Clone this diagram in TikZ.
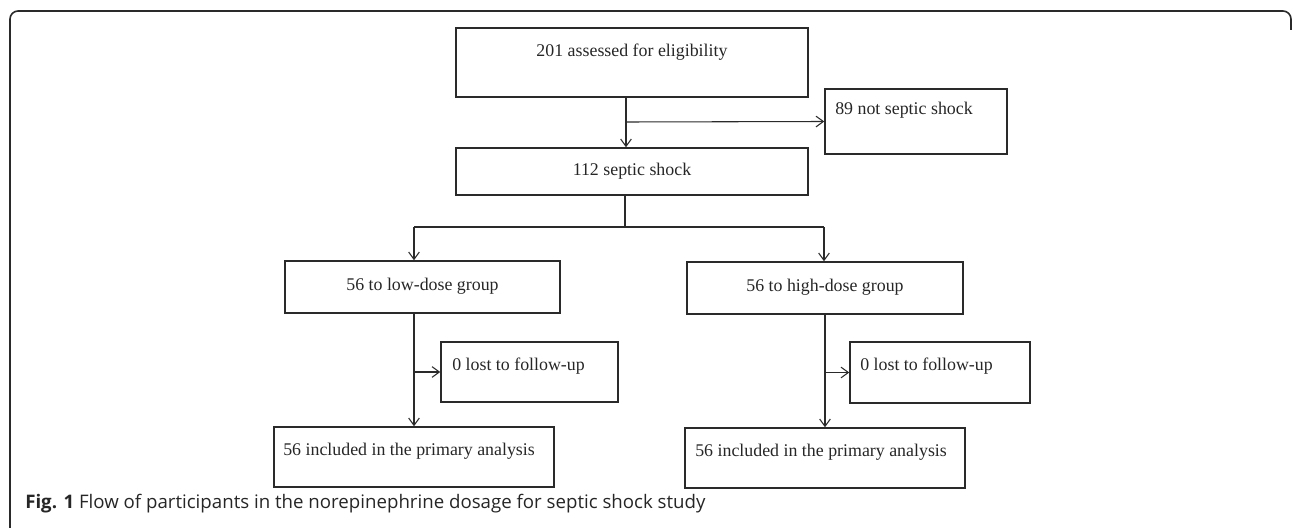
\documentclass[tikz,border=0pt]{standalone}
\usepackage{fontspec}
\setmainfont{Liberation Serif}
\newfontfamily\capfont{Open Sans}
\usetikzlibrary{arrows.meta}
\definecolor{ln}{HTML}{2A2A2A}
\begin{document}
\begin{tikzpicture}[x=0.75pt,y=-0.75pt,
  boxst/.style={draw=ln,line width=1.1pt,rectangle,inner sep=0pt},
  txt/.style={inner sep=0pt,font=\fontsize{13.4}{16}\selectfont,text=black!85},
  arr/.style={draw=ln,line width=0.8pt,-{Straight Barb[length=5.5pt,width=8pt,line width=0.8pt]}},
  ln/.style={draw=ln,line width=0.8pt}]
\useasboundingbox (0,0) rectangle (1293,528);
% frame
\draw[draw=ln,line width=1.2pt,rounded corners=6pt] (10,540) -- (10,11) -- (1291,11) -- (1291,30);
% boxes
\node[boxst,minimum width=352*0.75pt,minimum height=69*0.75pt] (A) at (632,62.5) {};
\node[boxst,minimum width=182*0.75pt,minimum height=65*0.75pt] (N) at (916,121.5) {};
\node[boxst,minimum width=352*0.75pt,minimum height=47*0.75pt] (B) at (632,171.5) {};
\node[boxst,minimum width=275*0.75pt,minimum height=52*0.75pt] (L) at (422.5,287) {};
\node[boxst,minimum width=276*0.75pt,minimum height=52*0.75pt] (H) at (825,288) {};
\node[boxst,minimum width=177*0.75pt,minimum height=60*0.75pt] (LL) at (529.5,372) {};
\node[boxst,minimum width=180*0.75pt,minimum height=61*0.75pt] (HL) at (940,372.5) {};
\node[boxst,minimum width=280*0.75pt,minimum height=60*0.75pt] (LI) at (414,457) {};
\node[boxst,minimum width=280*0.75pt,minimum height=60*0.75pt] (HI) at (825,458) {};
% texts
\node[txt] (tA) at (632,52) {201 assessed for eligibility};
\node[txt,anchor=west] (tN) at (835,110) {89 not septic shock};
\node[txt] (tB) at (632,171) {112 septic shock};
\node[txt] (tL) at (422.5,286) {56 to low-dose group};
\node[txt] (tH) at (825,287) {56 to high-dose group};
\node[txt,anchor=west] (tLL) at (452,366) {0 lost to follow-up};
\node[txt,anchor=west] (tHL) at (860,366) {0 lost to follow-up};
\node[txt,anchor=west] (tLI) at (283,451) {56 included in the primary analysis};
\node[txt,anchor=west] (tHI) at (695,452) {56 included in the primary analysis};
% connectors
\coordinate (j1) at (626,122);
\draw[arr] (j1 |- A.south) -- (j1 |- B.north);
\draw[arr] (j1) -- (N.west);
\coordinate (j2) at (625,227);
\coordinate (jl) at (414,227);
\coordinate (jh) at (824,227);
\draw[ln] (j2 |- B.south) -- (j2);
\draw[ln] (jl) -- (jh);
\draw[arr] (jl) -- (jl |- L.north);
\draw[arr] (jh) -- (jh |- H.north);
\draw[arr] (L.south -| LI.north) -- (LI.north);
\draw[arr] (LL.west -| LI.north) -- (LL.west);
\draw[arr] (H.south -| HI.north) -- (HI.north);
\draw[arr] (HL.west -| HI.north) -- (HL.west);
% caption
\node[inner sep=0pt,anchor=west,font=\capfont\fontsize{14}{16}\selectfont,text=black!85] (cap) at (25,504) {\textbf{Fig. 1} Flow of participants in the norepinephrine dosage for septic shock study};
\end{tikzpicture}
\end{document}
